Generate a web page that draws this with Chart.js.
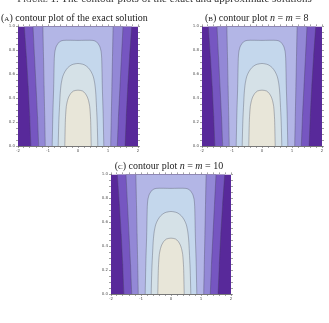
<!DOCTYPE html>
<html>
<head>
<meta charset="utf-8">
<script src="https://cdn.jsdelivr.net/npm/chart.js@4.4.0/dist/chart.umd.min.js"></script>
<style>
  body { margin: 0; background: #fff; width: 329px; height: 323px; overflow: hidden; position: relative;
         font-family: "Liberation Serif", "DejaVu Serif", serif; color: #222; }
  .t { position: absolute; white-space: nowrap; font-size: 10px; line-height: 11px; will-change: transform; }
  .sc { font-variant: small-caps; }
  canvas { position: absolute; }
</style>
</head>
<body>
<div class="t" style="left:0;width:329px;text-align:center;top:-8px;font-size:11px;line-height:12px;color:#333"><span class="sc">Figure 1.</span> The contour plots of the exact and approximate solutions</div>
<div class="t" style="left:1px;top:12px">(<span class="sc">a</span>) contour plot of the exact solution</div>
<div class="t" style="left:205px;top:12px">(<span class="sc">b</span>) contour plot <i>n</i> = <i>m</i> = 8</div>
<div class="t" style="left:69px;width:200px;text-align:center;top:160px">(<span class="sc">c</span>) contour plot <i>n</i> = <i>m</i> = 10</div>

<canvas id="plotA" width="132" height="131" style="left:9px;top:23px"></canvas>
<canvas id="plotB" width="132" height="131" style="left:193px;top:23px"></canvas>
<canvas id="plotC" width="132" height="131" style="left:102px;top:171px"></canvas>

<script>
// contour levels, outermost first; each is a half-width (|x|) at the given t
const bandT = [0, 0.25, 0.5, 0.75, 1];
const baseHalf = [2, 2, 2, 2, 2];
const bandA = [1.57, 1.61, 1.66, 1.72, 1.79];
const bandB = [1.31, 1.35, 1.40, 1.45, 1.50];
const bandC = [1.09, 1.11, 1.13, 1.15, 1.17];

const curve1T = [0, 0.25, 0.5, 0.73, 0.79, 0.835, 0.87, 0.883, 0.883];
const curve1X = [0.86, 0.84, 0.81, 0.79, 0.77, 0.72, 0.62, 0.5, 0];
const curve2T = [0, 0.2, 0.36, 0.45, 0.52, 0.58, 0.62, 0.655, 0.68, 0.69];
const curve2X = [0.66, 0.64, 0.61, 0.59, 0.56, 0.51, 0.44, 0.34, 0.2, 0];
const curve3T = [0, 0.22, 0.33, 0.38, 0.41, 0.44, 0.46, 0.467];
const curve3X = [0.44, 0.42, 0.39, 0.35, 0.31, 0.24, 0.15, 0];

const levelColors = ["#58299a", "#7656c1", "#9388d6", "#b3b6e6", "#c4d7ec", "#d5e1e7", "#e8e6d9"];

const xLabels = [-2, -1, 0, 1, 2];
const yLabels = [0, 0.2, 0.4, 0.6, 0.8, 1];

// closed outline of the region inside one contour (left side up, right side down)
function outline(ts, xs) {
    const pts = [];
    for (let i = 0; i < ts.length; i++) pts.push({x: -xs[i], y: ts[i]});
    for (let i = ts.length - 1; i >= 0; i--) {
        if (xs[i] === 0) continue;
        pts.push({x: xs[i], y: ts[i]});
    }
    return pts;
}

const regions = [
    outline(bandT, baseHalf),
    outline(bandT, bandA),
    outline(bandT, bandB),
    outline(bandT, bandC),
    outline(curve1T, curve1X),
    outline(curve2T, curve2X),
    outline(curve3T, curve3X)
];
// bands run the full height, the inner curves are closed
const closedCurve = [false, false, false, false, true, true, true];

const tickFont = {family: "DejaVu Sans", size: 4};

function sideAxis(pos, min, max, step) {
    return {
        type: "linear", position: pos, min: min, max: max,
        ticks: {display: false, stepSize: step},
        grid: {drawOnChartArea: false, tickLength: 2, color: "#444", lineWidth: 0.5},
        border: {display: false},
        afterFit: s => { if (pos === "top") s.height = 2; else s.width = 2; }
    };
}

function makePlot(id) {
    new Chart(document.getElementById(id), {
        type: "scatter",
        data: {
            datasets: regions.map((pts, i) => ({
                data: pts,
                showLine: true,
                fill: "shape",
                backgroundColor: levelColors[i],
                borderColor: i === 0 ? "transparent" : "rgba(70,70,85,0.5)",
                borderWidth: 0.7,
                pointRadius: 0,
                // non-zero tension keeps chart.js off its fast (x-collapsing) path
                tension: closedCurve[i] ? 0.25 : 0.001,
                order: regions.length - i
            }))
        },
        options: {
            responsive: false,
            animation: false,
            events: [],
            layout: {padding: {left: 0, right: 1, top: 1, bottom: 0}},
            plugins: {legend: {display: false}, tooltip: {enabled: false}},
            scales: {
                x: {
                    type: "linear", position: "bottom", min: -2, max: 2,
                    ticks: {
                        stepSize: 0.2, autoSkip: false, maxRotation: 0, padding: 1,
                        font: tickFont, color: "#555",
                        callback: v => xLabels.some(l => Math.abs(l - v) < 1e-6) ? String(Math.round(v)) : ""
                    },
                    grid: {drawOnChartArea: false, tickLength: 2, color: "#444", lineWidth: 0.5},
                    border: {display: true, color: "#555", width: 0.8},
                    afterFit: s => { s.height = 8; }
                },
                y: {
                    type: "linear", position: "left", min: 0, max: 1,
                    ticks: {
                        stepSize: 0.05, autoSkip: false, padding: 1,
                        font: tickFont, color: "#555",
                        callback: v => yLabels.some(l => Math.abs(l - v) < 1e-6) ? v.toFixed(1) : ""
                    },
                    grid: {drawOnChartArea: false, tickLength: 2, color: "#444", lineWidth: 0.5},
                    border: {display: true, color: "#555", width: 0.8},
                    afterFit: s => { s.width = 9; }
                },
                x2: sideAxis("top", -2, 2, 0.2),
                y2: sideAxis("right", 0, 1, 0.05)
            }
        }
    });
}

makePlot("plotA");
makePlot("plotB");
makePlot("plotC");
</script>
</body>
</html>
